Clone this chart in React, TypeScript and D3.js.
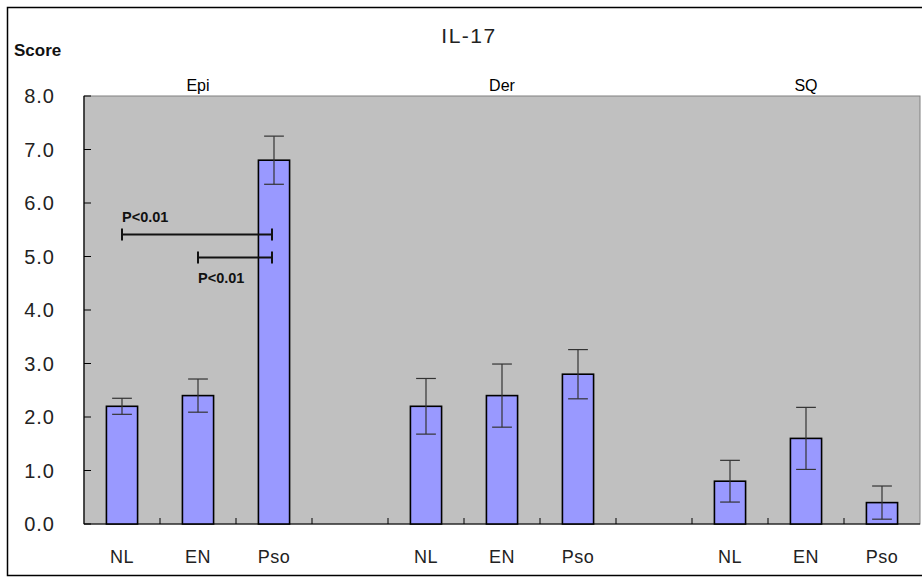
import React, { useEffect, useRef } from 'react'
import * as d3 from 'd3'

const groups = ['Epi', 'Der', 'SQ']
const categories = ['NL', 'EN', 'Pso']
const means = [
  [2.2, 2.4, 6.8],
  [2.2, 2.4, 2.8],
  [0.8, 1.6, 0.4]
]
const errors = [
  [0.15, 0.31, 0.45],
  [0.52, 0.59, 0.46],
  [0.39, 0.58, 0.31]
]
const yTicks = [0, 1, 2, 3, 4, 5, 6, 7, 8]
// significance brackets within Epi
const sigPairs = [
  { from: 'NL', to: 'Pso', y: 5.41, label: 'P<0.01', above: true },
  { from: 'EN', to: 'Pso', y: 4.98, label: 'P<0.01', above: false }
]

const W = 922
const H = 578
const font = '"Liberation Sans", Arial, sans-serif'

const App = () => {
  const ref = useRef<SVGSVGElement>(null)

  useEffect(() => {
    const svg = d3.select(ref.current)
    svg.selectAll('*').remove()

    // slots: 3 bars per group with an empty slot between groups
    const slots: string[] = []
    groups.forEach((g, gi) => {
      categories.forEach(c => slots.push(g + '-' + c))
      if (gi < groups.length - 1) slots.push('gap' + gi)
    })

    const x = d3.scaleBand().domain(slots).range([84, 920]).padding(0)
    const y = d3.scaleLinear().domain([0, 8]).range([524, 96])
    const bw = x.bandwidth()

    // outer frame
    svg.append('rect')
      .attr('x', 7.5).attr('y', 7.5)
      .attr('width', 930).attr('height', 568)
      .attr('fill', '#fff').attr('stroke', '#000').attr('stroke-width', 1.5)

    // plot area
    svg.append('rect')
      .attr('x', 84).attr('y', y(8))
      .attr('width', 836).attr('height', y(0) - y(8))
      .attr('fill', '#c0c0c0').attr('stroke', '#808080').attr('stroke-width', 1)

    svg.append('line').attr('x1', 84).attr('x2', 84).attr('y1', y(8)).attr('y2', y(0))
      .attr('stroke', '#000').attr('stroke-width', 1.2)
    svg.append('line').attr('x1', 84).attr('x2', 920).attr('y1', y(0)).attr('y2', y(0))
      .attr('stroke', '#000').attr('stroke-width', 1.2)

    // y ticks + labels
    yTicks.forEach(t => {
      svg.append('line').attr('x1', 84).attr('x2', 91).attr('y1', y(t)).attr('y2', y(t))
        .attr('stroke', '#000')
      svg.append('text')
        .attr('x', 55).attr('y', y(t)).attr('dy', '0.36em')
        .attr('text-anchor', 'end')
        .attr('font-family', font).attr('font-size', 20).attr('letter-spacing', 1)
        .attr('fill', '#222')
        .text(d3.format('.1f')(t))
    })

    // x ticks at slot boundaries
    slots.slice(1).forEach(s => {
      const xx = x(s) as number
      svg.append('line').attr('x1', xx).attr('x2', xx).attr('y1', y(0)).attr('y2', y(0) - 6)
        .attr('stroke', '#000')
    })

    // bars
    groups.forEach((g, gi) => {
      categories.forEach((c, ci) => {
        const cx = (x(g + '-' + c) as number) + bw / 2
        const v = means[gi][ci]
        const e = errors[gi][ci]
        const barW = bw * 0.41
        svg.append('rect')
          .attr('x', cx - barW / 2).attr('y', y(v))
          .attr('width', barW).attr('height', y(0) - y(v))
          .attr('fill', '#9999ff').attr('stroke', '#000').attr('stroke-width', 1.6)
        const capW = bw * 0.26
        const eg = svg.append('g').attr('stroke', '#333').attr('stroke-width', 1.2)
        eg.append('line').attr('x1', cx).attr('x2', cx).attr('y1', y(v + e)).attr('y2', y(v - e))
        eg.append('line').attr('x1', cx - capW / 2).attr('x2', cx + capW / 2).attr('y1', y(v + e)).attr('y2', y(v + e))
        eg.append('line').attr('x1', cx - capW / 2).attr('x2', cx + capW / 2).attr('y1', y(v - e)).attr('y2', y(v - e))

        svg.append('text')
          .attr('x', cx).attr('y', 557).attr('dy', '0.36em')
          .attr('text-anchor', 'middle')
          .attr('font-family', font).attr('font-size', 18).attr('letter-spacing', 0.5)
          .attr('fill', '#222')
          .text(c)
      })
      // group label over the middle bar
      const mx = (x(g + '-' + categories[1]) as number) + bw / 2
      svg.append('text')
        .attr('x', mx).attr('y', 85).attr('dy', '0.36em')
        .attr('text-anchor', 'middle')
        .attr('font-family', font).attr('font-size', 16).attr('fill', '#000')
        .text(g)
    })

    // significance brackets
    sigPairs.forEach(p => {
      const x1 = (x('Epi-' + p.from) as number) + bw / 2
      const x2 = (x('Epi-' + p.to) as number) + bw / 2 - 2
      const yy = y(p.y)
      const sg = svg.append('g').attr('stroke', '#111').attr('stroke-width', 2)
      sg.append('line').attr('x1', x1).attr('x2', x2).attr('y1', yy).attr('y2', yy)
      sg.append('line').attr('x1', x1).attr('x2', x1).attr('y1', yy - 6).attr('y2', yy + 6)
      sg.append('line').attr('x1', x2).attr('x2', x2).attr('y1', yy - 6).attr('y2', yy + 6)
      svg.append('text')
        .attr('x', x1).attr('y', p.above ? yy - 13 : yy + 25)
        .attr('font-family', font).attr('font-size', 14.5).attr('font-weight', 'bold').attr('fill', '#111')
        .text(p.label)
    })

    // titles
    svg.append('text')
      .attr('x', 14).attr('y', 50).attr('dy', '0.36em')
      .attr('font-family', font).attr('font-size', 17).attr('font-weight', 'bold').attr('fill', '#111')
      .text('Score')
    svg.append('text')
      .attr('x', 469).attr('y', 35).attr('dy', '0.36em')
      .attr('text-anchor', 'middle')
      .attr('font-family', font).attr('font-size', 21).attr('letter-spacing', 1.5)
      .attr('fill', '#222')
      .text('IL-17')
  }, [])

  return (
    <svg ref={ref} width={W} height={H}
      style={{ position: 'absolute', left: 0, top: 0, background: '#fff' }} />
  )
}

export default App
